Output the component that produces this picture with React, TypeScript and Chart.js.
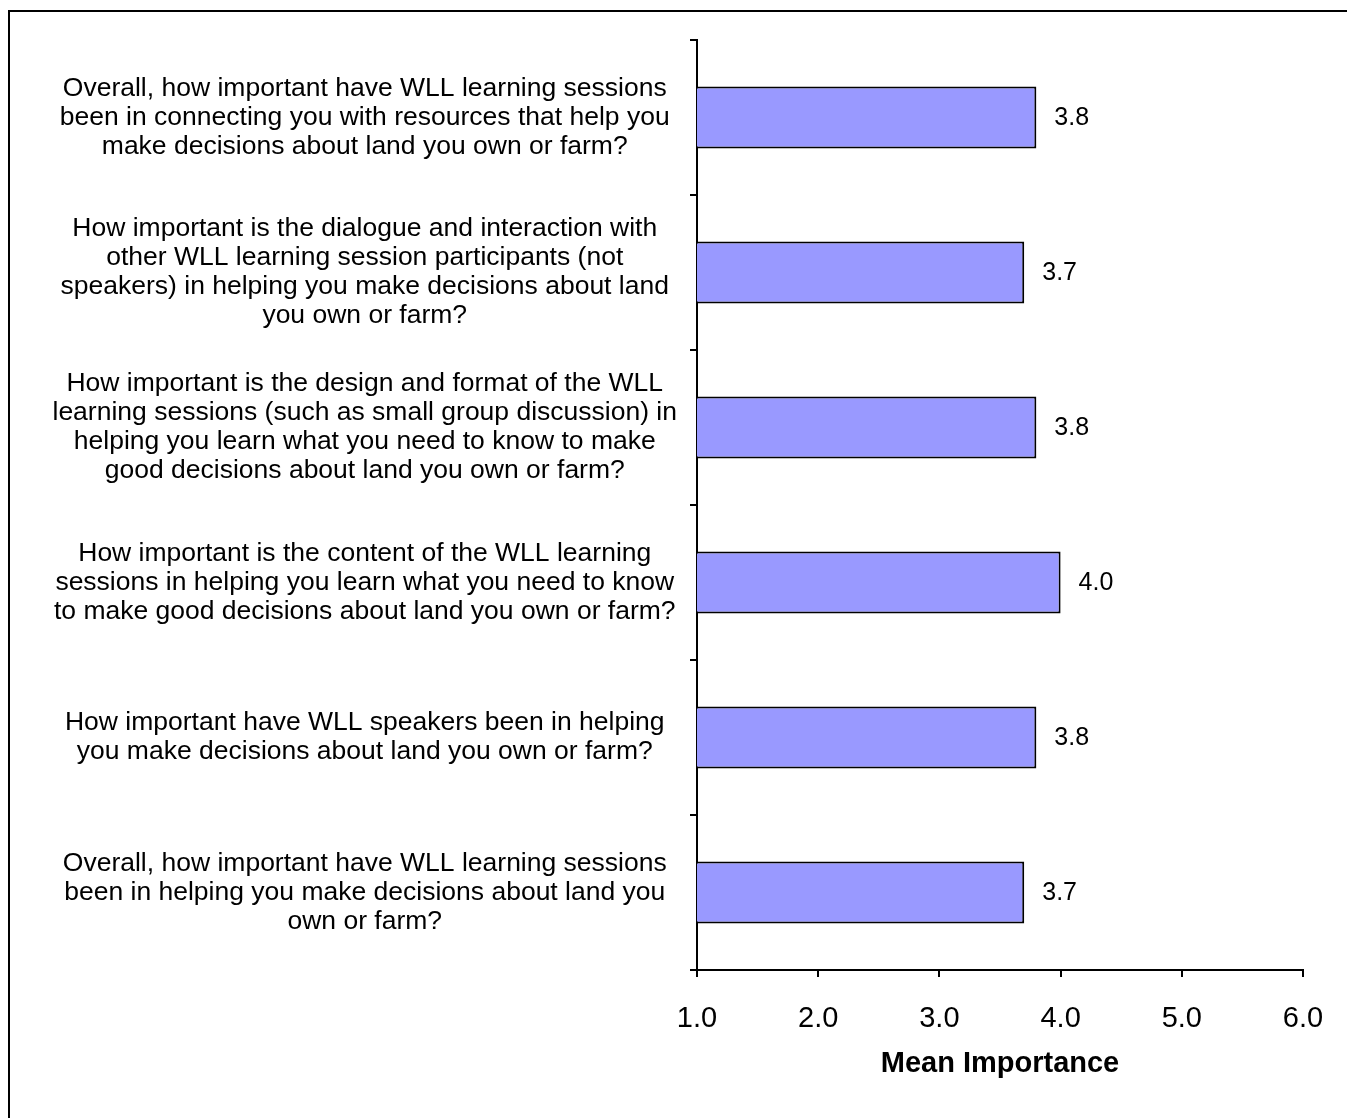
import React, { useEffect, useRef } from "react";
import { Chart, registerables } from "chart.js";

Chart.register(...registerables);

// Survey questions, top to bottom, split into display lines
const questions: string[][] = [
  [
    "Overall, how important have WLL learning sessions",
    "been in connecting you with resources that help you",
    "make decisions about land you own or farm?",
  ],
  [
    "How important is the dialogue and interaction with",
    "other WLL learning session participants (not",
    "speakers) in helping you make decisions about land",
    "you own or farm?",
  ],
  [
    "How important is the design and format of the WLL",
    "learning sessions (such as small group discussion) in",
    "helping you learn what you need to know to make",
    "good decisions about land you own or farm?",
  ],
  [
    "How important is the content of the WLL learning",
    "sessions in helping you learn what you need to know",
    "to make good decisions about land you own or farm?",
  ],
  [
    "How important have WLL speakers been in helping",
    "you make decisions about land you own or farm?",
  ],
  [
    "Overall, how important have WLL learning sessions",
    "been in helping you make decisions about land you",
    "own or farm?",
  ],
];

// Mean importance score for each question
const meanImportance: number[] = [3.8, 3.7, 3.8, 4.0, 3.8, 3.7];

// Value axis range
const axisMin = 1;
const axisMax = 6;
const axisStep = 1;

const FONT = "'Liberation Sans', Arial, Helvetica, sans-serif";

// Writes the mean value to the right of each bar
const valueLabels = {
  id: "valueLabels",
  afterDatasetsDraw(chart: Chart) {
    const { ctx } = chart;
    const meta = chart.getDatasetMeta(0);
    const data = chart.data.datasets[0].data as number[];
    ctx.save();
    ctx.font = `25px ${FONT}`;
    ctx.fillStyle = "#000";
    ctx.textAlign = "left";
    ctx.textBaseline = "middle";
    meta.data.forEach((bar: any, i: number) => {
      ctx.fillText(data[i].toFixed(1), bar.x + 18, bar.y + 1);
    });
    ctx.restore();
  },
};

export default function App() {
  const canvasRef = useRef<HTMLCanvasElement | null>(null);

  useEffect(() => {
    const canvas = canvasRef.current;
    if (!canvas) return;
    const chart = new Chart(canvas, {
      type: "bar",
      data: {
        labels: questions,
        datasets: [
          {
            data: meanImportance,
            backgroundColor: "#9999FF",
            borderColor: "#000000",
            borderWidth: 2,
            categoryPercentage: 0.8,
            barPercentage: 0.5,
          },
        ],
      },
      options: {
        indexAxis: "y",
        animation: false,
        responsive: false,
        devicePixelRatio: 1,
        layout: { padding: { top: 28, right: 36, bottom: 0, left: 0 } },
        plugins: {
          legend: { display: false },
          tooltip: { enabled: false },
        },
        scales: {
          x: {
            type: "linear",
            min: axisMin,
            max: axisMax,
            afterFit: (scale: any) => {
              scale.height = 132;
              scale.paddingLeft = 0;
              scale.paddingRight = 0;
            },
            border: { display: true, color: "#000", width: 2 },
            grid: {
              drawOnChartArea: false,
              drawTicks: true,
              tickLength: 7,
              color: "#000",
              lineWidth: 2,
            },
            ticks: {
              stepSize: axisStep,
              padding: 25,
              color: "#000",
              font: { family: FONT, size: 29 },
              callback: (v: any) => Number(v).toFixed(1),
            },
            title: {
              display: true,
              text: "Mean Importance",
              color: "#000",
              font: { family: FONT, size: 29, weight: "bold" },
              padding: { top: 0, bottom: 21 },
            },
          },
          y: {
            afterFit: (scale: any) => {
              scale.width = 687;
              scale.paddingTop = 0;
              scale.paddingBottom = 0;
            },
            border: { display: true, color: "#000", width: 2 },
            grid: {
              drawOnChartArea: false,
              drawTicks: true,
              tickLength: 7,
              color: "#000",
              lineWidth: 2,
              offset: true,
            },
            ticks: {
              crossAlign: "center",
              padding: 13,
              color: "#000",
              font: { family: FONT, size: 26.5, lineHeight: "29px" },
              autoSkip: false,
            },
          },
        },
      },
      plugins: [valueLabels],
    } as any);
    return () => chart.destroy();
  }, []);

  return (
    <div style={{ paddingTop: 4, paddingLeft: 2, background: "#fff" }}>
      {/* open frame drawn around the figure, running off the page edges */}
      <div
        style={{
          position: "fixed",
          top: 10,
          left: 8,
          right: -20,
          bottom: -20,
          borderTop: "2px solid #000",
          borderLeft: "2px solid #000",
          pointerEvents: "none",
        }}
      />
      <canvas
        ref={canvasRef}
        width={1329}
        height={1090}
        style={{ display: "block", width: 1329, height: 1090 }}
      />
    </div>
  );
}
